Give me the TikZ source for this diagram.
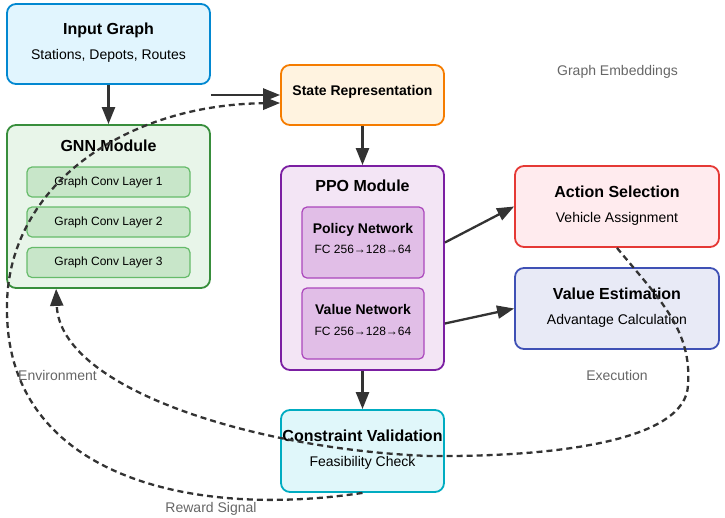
\documentclass[tikz,border=0pt]{standalone}
\usepackage{fontspec}
\setmainfont{Liberation Sans}
\usepackage{xcolor}
\usepackage{tikz}
\usetikzlibrary{arrows.meta}
\usetikzlibrary{calc}

\definecolor{inFill}{HTML}{E1F5FE}
\definecolor{inLine}{HTML}{0288D1}
\definecolor{gnnFill}{HTML}{E8F5E9}
\definecolor{gnnLine}{HTML}{388E3C}
\definecolor{layFill}{HTML}{C8E6C9}
\definecolor{layLine}{HTML}{66BB6A}
\definecolor{stFill}{HTML}{FFF3E0}
\definecolor{stLine}{HTML}{F57C00}
\definecolor{ppoFill}{HTML}{F3E5F5}
\definecolor{ppoLine}{HTML}{7B1FA2}
\definecolor{netFill}{HTML}{E1BEE7}
\definecolor{netLine}{HTML}{AB47BC}
\definecolor{actFill}{HTML}{FFEBEE}
\definecolor{actLine}{HTML}{E53935}
\definecolor{valFill}{HTML}{E8EAF6}
\definecolor{valLine}{HTML}{3F51B5}
\definecolor{cvFill}{HTML}{E0F7FA}
\definecolor{cvLine}{HTML}{00ACC1}
\definecolor{lineGray}{HTML}{333333}
\definecolor{lblGray}{HTML}{666666}

\begin{document}
\begin{tikzpicture}[x=1pt,y=-1pt,
	box/.style={draw,line width=1.8pt,rounded corners=9pt,inner sep=0pt},
	inbox/.style={draw,line width=1.2pt,rounded corners=5pt,inner sep=0pt},
	ttl/.style={anchor=base,font=\fontsize{16}{19}\selectfont\bfseries},
	sttl/.style={anchor=base,font=\fontsize{14}{17}\selectfont\bfseries},
	subtxt/.style={anchor=base,font=\fontsize{14}{17}\selectfont},
	smalltxt/.style={anchor=base,font=\fontsize{12}{14}\selectfont},
	lbl/.style={anchor=base,text=lblGray,font=\fontsize{14}{17}\selectfont},
	arr/.style={draw=lineGray,line width=2.3pt,-{Triangle[length=17pt,width=13pt]}},
	flow/.style={arr,dash pattern=on 6pt off 4pt}]
	
	\useasboundingbox (0,0) rectangle (725,517);
	
	\node [box,fill=inFill,draw=inLine,minimum width=203pt,minimum height=80pt] (inp) at (108.5,44) {};
	
	\node [ttl] (inpT) at (108.5,34) {Input Graph};
	
	\node [subtxt] (inpS) at (108.5,59) {Stations, Depots, Routes};
	
	\node [box,fill=gnnFill,draw=gnnLine,minimum width=203pt,minimum height=163pt] (gnn) at (108.5,206.5) {};
	
	\node [ttl] (gnnT) at (108.5,151) {GNN Module};
	
	\node [inbox,fill=layFill,draw=layLine,minimum width=163pt,minimum height=30pt,font=\fontsize{12}{14}\selectfont] (lay1) at (108.5,182) {Graph Conv Layer 1};
	
	\node [inbox,fill=layFill,draw=layLine,minimum width=163pt,minimum height=30pt,font=\fontsize{12}{14}\selectfont] (lay2) at (108.5,222) {Graph Conv Layer 2};
	
	\node [inbox,fill=layFill,draw=layLine,minimum width=163pt,minimum height=30pt,font=\fontsize{12}{14}\selectfont] (lay3) at (108.5,262.5) {Graph Conv Layer 3};
	
	\node [box,fill=stFill,draw=stLine,minimum width=163pt,minimum height=60pt] (state) at (362.5,95) {};
	
	\node [sttl] (stateT) at (362.5,95) {State Representation};
	
	\node [box,fill=ppoFill,draw=ppoLine,minimum width=163pt,minimum height=204pt] (ppo) at (362.5,268) {};
	
	\node [ttl] (ppoT) at (362.5,191.5) {PPO Module};
	
	\node [inbox,fill=netFill,draw=netLine,minimum width=122pt,minimum height=71pt] (pol) at (363,242.5) {};
	
	\node [sttl] (polT) at (363,233.5) {Policy Network};
	
	\node [smalltxt] (polS) at (363,253.5) {FC 256→128→64};
	
	\node [inbox,fill=netFill,draw=netLine,minimum width=122pt,minimum height=71pt] (valn) at (363,323.5) {};
	
	\node [sttl] (valnT) at (363,314) {Value Network};
	
	\node [smalltxt] (valnS) at (363,335) {FC 256→128→64};
	
	\node [box,fill=cvFill,draw=cvLine,minimum width=163pt,minimum height=82pt] (cv) at (362.5,451) {};
	
	\node [ttl] (cvT) at (362.5,441) {Constraint Validation};
	
	\node [subtxt] (cvS) at (362.5,466.5) {Feasibility Check};
	
	\node [box,fill=actFill,draw=actLine,minimum width=204pt,minimum height=81pt] (act) at (617,206.5) {};
	
	\node [ttl] (actT) at (617,197) {Action Selection};
	
	\node [subtxt] (actS) at (617,222.5) {Vehicle Assignment};
	
	\node [box,fill=valFill,draw=valLine,minimum width=204pt,minimum height=81pt] (vest) at (617,308.5) {};
	
	\node [ttl] (vestT) at (617,299) {Value Estimation};
	
	\node [subtxt] (vestS) at (617,324) {Advantage Calculation};
	
	\draw [arr] (inp.south) -- (gnn.north);
	
	\draw [arr] (gnn.east |- state.west) -- (state.west);
	
	\draw [arr] (state.south) -- (ppo.north);
	
	\draw [arr] (ppo.south) -- (cv.north);
	
	\draw [arr] (ppo.east |- pol.east) -- (act.west);
	
	\draw [arr] (ppo.east |- valn.east) -- (vest.west);
	
	\coordinate (lw) at (7,310);
	
	\draw [flow] (cv.south) .. controls (180,520) and (7,470) .. (lw) .. controls (5,190) and (120,105) .. ([yshift=-8pt]state.west);
	
	\coordinate (ex1) at (688,385);
	
	\coordinate (ex2) at (430,456);
	
	\draw [flow] (act.south) .. controls (660,300) and (692,330) .. (ex1) .. controls (686,440) and (560,457) .. (ex2) .. controls (260,450) and (60,390) .. ([xshift=50pt]gnn.south west);
	
	\node [lbl] (embL) at (617.5,75) {Graph Embeddings};
	
	\node [lbl] (envL) at (57.5,380) {Environment};
	
	\node [lbl] (exeL) at (617,380.5) {Execution};
	
	\node [lbl] (rewL) at (211,512.5) {Reward Signal};
	
\end{tikzpicture}
\end{document}
